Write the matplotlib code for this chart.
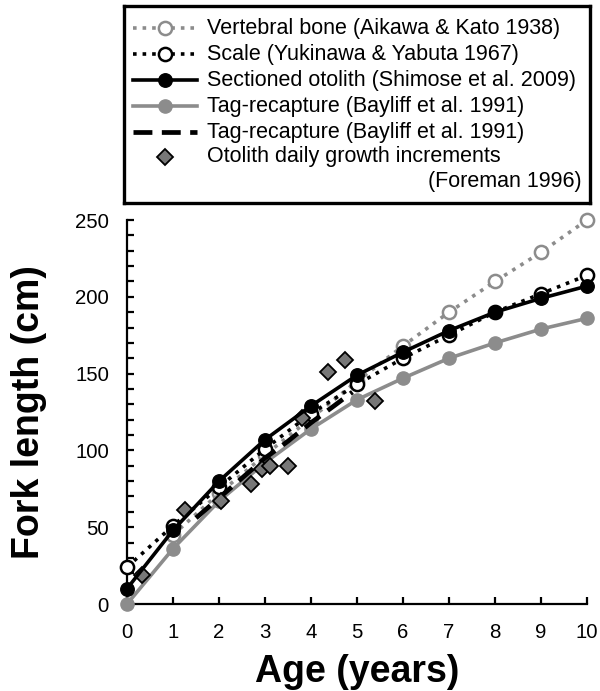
import matplotlib
matplotlib.use('Agg')
import matplotlib.pyplot as plt
from matplotlib.ticker import MultipleLocator

plt.rcParams['font.family'] = ['Liberation Sans', 'DejaVu Sans']

#==============
# Datos (edad en años, largo furcal en cm)

edades = [0, 1, 2, 3, 4, 5, 6, 7, 8, 9, 10]

# Vértebra (Aikawa & Kato 1938), empieza en 1 año
vertebra_edad = [1, 2, 3, 4, 5, 6, 7, 8, 9, 10]
vertebra_lf = [45, 72, 97, 121, 145, 168, 190, 210, 229, 250]

# Escama (Yukinawa & Yabuta 1967)
escama_lf = [24, 51, 76, 101, 124, 143, 160, 175, 190, 202, 214]

# Otolito seccionado (Shimose et al. 2009)
otolito_lf = [10, 48, 80, 107, 129, 149, 164, 178, 190, 199, 207]

# Marcado-recaptura (Bayliff et al. 1991)
marcado_lf = [0, 36, 67, 92, 114, 133, 147, 160, 170, 179, 186]

# Marcado-recaptura, tramo a trazos
marcado2_edad = [1.5, 2, 2.5, 3, 3.5, 4, 4.5, 4.9]
marcado2_lf = [56, 69, 82, 95, 106, 118, 129, 138]

# Incrementos diarios de otolito (Foreman 1996)
diarios_edad = [0.33, 1.27, 2.05, 2.7, 2.93, 3.1, 3.5, 3.8, 4.37, 4.74, 5.4]
diarios_lf = [19, 61, 67, 78, 88, 90, 90, 121, 151, 159, 132]

etiquetas = ['Vertebral bone (Aikawa & Kato 1938)',
             'Scale (Yukinawa & Yabuta 1967)',
             'Sectioned otolith (Shimose et al. 2009)',
             'Tag-recapture (Bayliff et al. 1991)',
             'Tag-recapture (Bayliff et al. 1991)',
             'Otolith daily growth increments']

gris = '#8c8c8c'

# estilos de cada serie (se usan en el gráfico y en la leyenda)
estilos = [
    dict(color=gris, ls=':', lw=2.6, marker='o', ms=9.5, mfc='white', mec=gris, mew=1.8),
    dict(color='black', ls=':', lw=2.6, marker='o', ms=9.5, mfc='white', mec='black', mew=1.8),
    dict(color='black', ls='-', lw=2.6, marker='o', ms=9.7, mfc='black', mec='black'),
    dict(color=gris, ls='-', lw=2.6, marker='o', ms=9.5, mfc=gris, mec=gris),
    dict(color='black', ls=(0, (4, 2)), lw=3.4),
    dict(color='none', ls='none', marker='D', ms=8.2, mfc='#777777', mec='black', mew=1.3),
]

fig = plt.figure(figsize=(6, 6.91), dpi=100)
ax = fig.add_axes([0.2117, 0.1259, 0.7667, 0.5557])

ax.plot(vertebra_edad, vertebra_lf, clip_on=False, zorder=2, **estilos[0])
ax.plot(edades, marcado_lf, clip_on=False, zorder=3, **estilos[3])
ax.plot(edades, escama_lf, clip_on=False, zorder=4, **estilos[1])
ax.plot(marcado2_edad, marcado2_lf, clip_on=False, zorder=5, **estilos[4])
ax.plot(diarios_edad, diarios_lf, clip_on=False, zorder=6, **estilos[5])
ax.plot(edades, otolito_lf, clip_on=False, zorder=7, **estilos[2])

ax.set_xlim(0, 10)
ax.set_ylim(0, 250)
ax.set_xticks(edades)
ax.yaxis.set_major_locator(MultipleLocator(50))
ax.yaxis.set_minor_locator(MultipleLocator(10))
ax.spines['top'].set_visible(False)
ax.spines['right'].set_visible(False)
ax.spines['left'].set_linewidth(1.6)
ax.spines['bottom'].set_linewidth(1.6)
ax.tick_params(which='both', direction='in', width=1.6, labelsize=14.7)
ax.tick_params(axis='y', which='both', length=5, pad=13)
ax.tick_params(axis='x', length=5, pad=14)
ax.set_xlabel('Age (years)', fontsize=27, fontweight='bold', labelpad=8)
ax.set_ylabel('Fork length (cm)', fontsize=27, fontweight='bold', labelpad=20)

#==============
# Leyenda armada a mano en un eje aparte (la última entrada ocupa dos renglones)

lax = fig.add_axes([0.2067, 0.7062, 0.7767, 0.2851])
lax.set_xlim(0, 1)
lax.set_ylim(0, 1)
lax.set_xticks([])
lax.set_yticks([])
for lado in lax.spines.values():
    lado.set_linewidth(2.4)

filas = [0.888, 0.756, 0.624, 0.492, 0.360, 0.234]
for fila, etiqueta, estilo in zip(filas, etiquetas, estilos):
    if estilo.get('marker'):
        lax.plot([0.019, 0.088, 0.157], [fila] * 3, markevery=[1], **estilo)
    else:
        lax.plot([0.019, 0.157], [fila] * 2, **estilo)
    lax.text(0.178, fila, etiqueta, fontsize=15.5, va='center', ha='left')
lax.text(0.983, 0.107, '(Foreman 1996)', fontsize=15.5, va='center', ha='right')

fig.savefig('out.png', dpi=100)
